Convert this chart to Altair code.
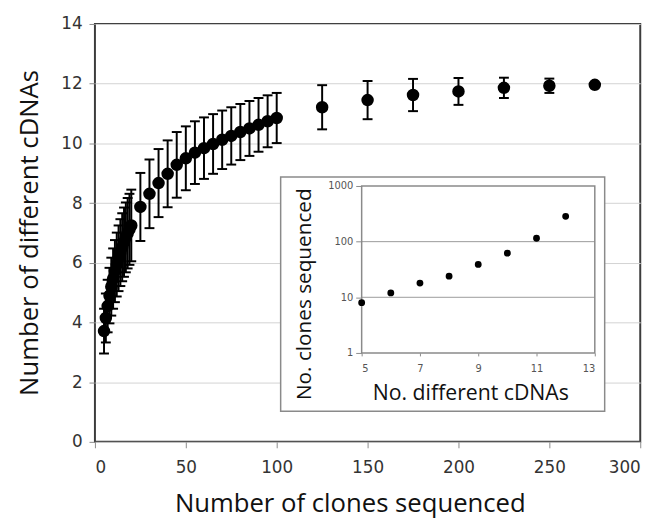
import altair as alt
import pandas as pd

# ---- main chart data ----
CLONES = [5, 6, 7, 8, 9, 10, 11, 12, 13, 14, 15, 16, 17, 18, 19, 20,
          25, 30, 35, 40, 45, 50, 55, 60, 65, 70, 75, 80, 85, 90, 95, 100,
          125, 150, 175, 200, 225, 250, 275]
CDNAS = [3.71, 4.15, 4.55, 4.90, 5.20, 5.47, 5.72, 5.94, 6.15, 6.34, 6.52, 6.69, 6.85, 6.99, 7.12, 7.25,
         7.87, 8.31, 8.67, 8.98, 9.28, 9.50, 9.69, 9.84, 9.98, 10.12, 10.25, 10.38, 10.50, 10.62, 10.74, 10.85,
         11.21, 11.45, 11.62, 11.74, 11.86, 11.93, 11.96]
ERR = [0.75, 0.82, 0.88, 0.93, 0.97, 1.01, 1.04, 1.07, 1.10, 1.12, 1.14, 1.16, 1.17, 1.18, 1.19, 1.20,
       1.14, 1.15, 1.14, 1.12, 1.10, 1.07, 1.05, 1.03, 1.00, 0.98, 0.96, 0.94, 0.92, 0.90, 0.87, 0.84,
       0.74, 0.64, 0.54, 0.45, 0.34, 0.24, 0.05]

X_TICKS = [0, 50, 100, 150, 200, 250, 300]
Y_TICKS = [0, 2, 4, 6, 8, 10, 12, 14]

# ---- inset data ----
INSET_CDNAS = [5, 6, 7, 8, 9, 10, 11, 12]
INSET_CLONES = [8, 12, 18, 24, 39, 62, 115, 285]
INSET_X_TICKS = [5, 7, 9, 11, 13]
INSET_Y_TICKS = [1, 10, 100, 1000]
INSET_GRID = [10, 100]

main_df = pd.DataFrame({"clones": CLONES, "cdnas": CDNAS, "err": ERR})
main_df["lo"] = main_df["cdnas"] - main_df["err"]
main_df["hi"] = main_df["cdnas"] + main_df["err"]

inset_df = pd.DataFrame({"n": INSET_CDNAS, "clones": INSET_CLONES})
inset_grid_df = pd.DataFrame({"g": INSET_GRID, "x0": [INSET_X_TICKS[0]] * 2, "x1": [INSET_X_TICKS[-1]] * 2})
inset_frame_df = pd.DataFrame({"x0": [INSET_X_TICKS[0]], "x1": [INSET_X_TICKS[-1]],
                               "y0": [INSET_Y_TICKS[0]], "y1": [INSET_Y_TICKS[-1]]})
box_df = pd.DataFrame({"k": [0]})

LABEL_FONT = "DejaVu Sans"
TITLE_FONT = "Open Sans"

x_axis = alt.Axis(values=X_TICKS, title="Number of clones sequenced", grid=False, domain=False,
                  labelFont=LABEL_FONT, labelFontSize=17, labelColor="#333333",
                  tickColor="#8a8a8a", tickSize=6, labelPadding=12,
                  titleFont=TITLE_FONT, titleFontSize=26, titleFontWeight="normal", titleColor="#111111",
                  titleX=258, titleY=63, titleBaseline="middle", titleAlign="center")
y_axis = alt.Axis(values=Y_TICKS, title="Number of different cDNAs", grid=True, domain=False,
                  gridColor="#d2d2d2", gridWidth=1,
                  labelFont=LABEL_FONT, labelFontSize=17, labelColor="#333333",
                  tickColor="#8a8a8a", tickSize=6, labelPadding=7,
                  titleFont=TITLE_FONT, titleFontSize=26, titleFontWeight="normal", titleColor="#111111",
                  titleX=-66, titleY=211, titleBaseline="middle", titleAlign="center", titleAngle=270)

x_scale = alt.Scale(domain=[0, 300])
y_scale = alt.Scale(domain=[0, 14])

rules = alt.Chart(main_df).mark_rule(color="black", strokeWidth=2).encode(
    x=alt.X("clones:Q", scale=x_scale, axis=x_axis),
    y=alt.Y("lo:Q", scale=y_scale, axis=y_axis),
    y2="hi:Q",
)
caps = alt.Chart(main_df).transform_fold(["lo", "hi"], as_=["end", "val"]).mark_tick(
    color="black", orient="horizontal", size=10, thickness=2, opacity=1
).encode(
    x=alt.X("clones:Q", scale=x_scale, axis=x_axis),
    y=alt.Y("val:Q", scale=y_scale, axis=y_axis),
)
points = alt.Chart(main_df).mark_circle(color="black", size=160, opacity=1).encode(
    x=alt.X("clones:Q", scale=x_scale, axis=x_axis),
    y=alt.Y("cdnas:Q", scale=y_scale, axis=y_axis),
)
main = alt.layer(rules, caps, points)

# white box behind inset
box = alt.Chart(box_df).mark_rect(fill="white", stroke="#8a8a8a", strokeWidth=1.5).encode(
    x=alt.value(188), x2=alt.value(516), y=alt.value(155), y2=alt.value(392)
)

ix_scale = alt.Scale(domain=[INSET_X_TICKS[0], INSET_X_TICKS[-1]], range=[270, 506])
iy_scale = alt.Scale(type="log", domain=[INSET_Y_TICKS[0], INSET_Y_TICKS[-1]], range=[333, 164])

ix_axis = alt.Axis(values=INSET_X_TICKS, title="No. different cDNAs", orient="bottom", offset=-90,
                   grid=False, domain=False, zindex=1,
                   labelFont=LABEL_FONT, labelFontSize=10, labelColor="#555555",
                   tickColor="#8a8a8a", tickSize=3, labelPadding=8,
                   titleFont=TITLE_FONT, titleFontSize=21.5, titleFontWeight="normal", titleColor="#111111",
                   titleX=380, titleY=41, titleBaseline="middle", titleAlign="center")
iy_axis = alt.Axis(values=INSET_Y_TICKS, title="No. clones sequenced", orient="left", offset=-270,
                   format="d", grid=False, domain=False, zindex=1,
                   labelFont=LABEL_FONT, labelFontSize=10, labelColor="#555555",
                   tickColor="#8a8a8a", tickSize=6, labelPadding=3,
                   titleFont=TITLE_FONT, titleFontSize=21, titleFontWeight="normal", titleColor="#111111",
                   titleX=-58, titleY=273, titleBaseline="middle", titleAlign="center", titleAngle=270)

inset_grid = alt.Chart(inset_grid_df).mark_rule(color="#9a9a9a", strokeWidth=1).encode(
    x=alt.X("x0:Q", scale=ix_scale, axis=ix_axis),
    x2="x1:Q",
    y=alt.Y("g:Q", scale=iy_scale, axis=iy_axis),
)
inset_frame = alt.Chart(inset_frame_df).mark_rect(fillOpacity=0, stroke="#8a8a8a", strokeWidth=1.5).encode(
    x=alt.X("x0:Q", scale=ix_scale, axis=ix_axis),
    x2="x1:Q",
    y=alt.Y("y0:Q", scale=iy_scale, axis=iy_axis),
    y2="y1:Q",
)
inset_points = alt.Chart(inset_df).mark_circle(color="black", size=48, opacity=1).encode(
    x=alt.X("n:Q", scale=ix_scale, axis=ix_axis),
    y=alt.Y("clones:Q", scale=iy_scale, axis=iy_axis),
)
inset = alt.layer(inset_grid, inset_frame, inset_points)

chart = alt.layer(main, box, inset).resolve_scale(
    x="independent", y="independent"
).properties(
    width=552, height=423,
    autosize=alt.AutoSizeParams(type="none"),
    padding={"left": 88, "top": 13, "right": 20, "bottom": 82},
).configure_view(stroke="#3c3c3c", strokeWidth=2)

chart.save("out.html", embed_options={"renderer": "svg", "actions": False})
